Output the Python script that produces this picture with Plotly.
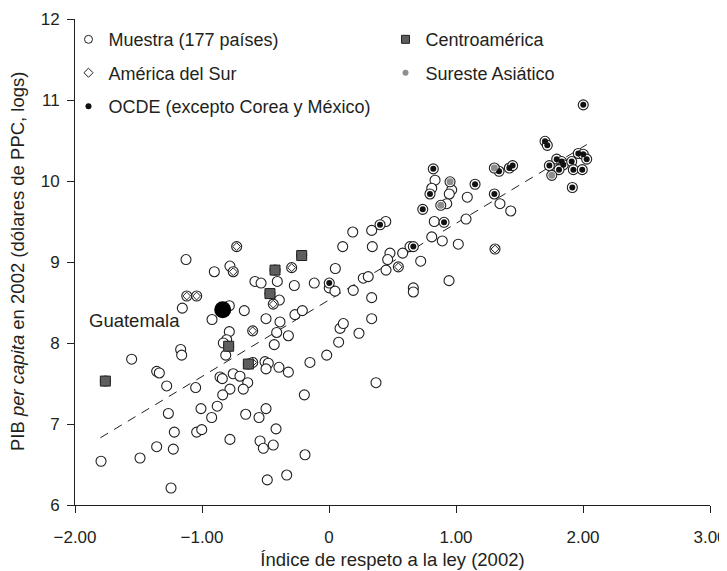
import plotly.graph_objects as go

# Índice de respeto a la ley (x) y PIB per capita en logs (y)
muestra_x = [-1.126, -0.903, -0.780, -1.155, -0.785, -0.921, -0.667, -0.583, -0.535, -0.407,
             -0.273, -0.116, 0.050, 0.108, 0.187, 0.336, 0.447, 0.341, 0.480, 0.462,
             0.449, 0.002, 0.047, 0.191, 0.270, 0.309, 0.336, 0.336, -0.391, -0.496,
             -0.386, -0.268, -0.210, -0.785, -0.806, -0.832, -0.813, -0.412, -0.320, -0.431,
             0.076, 0.087, 0.113, 0.236, -0.018, -1.168, -1.160, -1.554, -1.357, -1.336,
             -1.278, -1.050, -0.504, -0.478, -0.496, -0.394, -0.320, -0.150, -0.754, -0.701,
             -0.858, -0.840, -0.640, -0.675, -0.780, -0.837, -0.880, -1.008, -0.924, -1.265,
             -1.218, -1.042, -1.002, -0.656, -0.551, -0.496, -0.417, -0.543, -0.517, -0.439,
             -0.780, -0.194, -0.189, -0.333, -0.486, -1.244, -1.357, -1.226, -1.488, -1.795,
             0.370, 1.346, 1.431, 1.089, 1.079, 1.018, 0.945, 0.835, 0.809, 0.966,
             0.947, 0.927, 0.829, 0.809, 0.892, 0.638, 0.722, 0.580, 0.664, 0.664]
muestra_y = [9.03, 8.88, 8.95, 8.43, 8.46, 8.29, 8.40, 8.76, 8.74, 8.76,
             8.71, 8.74, 8.92, 9.19, 9.37, 9.39, 9.50, 9.19, 9.11, 9.03,
             8.90, 8.68, 8.64, 8.65, 8.80, 8.82, 8.56, 8.30, 8.53, 8.30,
             8.26, 8.35, 8.40, 8.14, 8.04, 8.00, 7.85, 8.13, 8.09, 7.98,
             8.01, 8.18, 8.24, 8.12, 7.85, 7.92, 7.85, 7.80, 7.65, 7.63,
             7.47, 7.45, 7.77, 7.75, 7.68, 7.70, 7.64, 7.76, 7.62, 7.59,
             7.58, 7.56, 7.51, 7.43, 7.43, 7.36, 7.22, 7.19, 7.08, 7.13,
             6.90, 6.90, 6.93, 7.12, 7.08, 7.19, 6.94, 6.79, 6.70, 6.74,
             6.81, 7.36, 6.62, 6.37, 6.31, 6.21, 6.72, 6.69, 6.58, 6.54,
             7.51, 9.72, 9.63, 9.80, 9.53, 9.22, 8.77, 10.01, 9.91, 9.89,
             9.84, 9.72, 9.50, 9.31, 9.26, 9.19, 9.01, 9.11, 8.68, 8.63]

sur_x = [-0.727, -0.754, -1.120, -1.042, -0.294, 0.546, -0.439, -0.601, -0.601, 1.307]
sur_y = [9.19, 8.88, 8.58, 8.58, 8.93, 8.94, 8.48, 8.15, 7.76, 9.16]

ocde_x = [2.002, 1.701, 1.719, 1.793, 1.832, 1.845, 1.911, 1.963, 2.002, 2.029,
          1.735, 1.811, 1.924, 1.994, 1.916, 1.339, 1.420, 1.446, 1.302, 1.150,
          0.821, 0.795, 0.738, 0.906, 0.664, 0.402, 0.002]
ocde_y = [10.94, 10.49, 10.44, 10.27, 10.24, 10.20, 10.24, 10.34, 10.33, 10.27,
          10.19, 10.14, 10.14, 10.14, 9.92, 10.12, 10.16, 10.19, 9.84, 9.96,
          10.15, 9.84, 9.65, 9.49, 9.19, 9.46, 8.74]

asia_x = [1.754, 1.302, 0.953, 0.880]
asia_y = [10.07, 10.16, 9.99, 9.70]

centro_x = [-0.425, -0.215, -0.465, -0.790, -0.635, -1.761]
centro_y = [8.90, 9.08, 8.61, 7.96, 7.74, 7.53]

guatemala_x = [-0.837]
guatemala_y = [8.41]

# recta de ajuste (extremos)
ajuste_x = [-1.80, 2.03]
ajuste_y = [6.83, 10.45]

x_ticks = [-2, -1, 0, 1, 2, 3]
x_ticktext = ["\u22122.00", "\u22121.00", "0", "1.00", "2.00", "3.00"]
y_ticks = [6, 7, 8, 9, 10, 11, 12]

FONT = "Liberation Sans, Arial, sans-serif"
INK = "#231f20"

fig = go.Figure()

# Recta de regresión (debajo de los puntos)
fig.add_trace(go.Scatter(
    x=ajuste_x, y=ajuste_y, mode="lines",
    line=dict(color=INK, width=1, dash="9px,7px"),
    showlegend=False, hoverinfo="skip"
))

# Todos los países como círculos abiertos
all_x = muestra_x + sur_x + ocde_x + asia_x + centro_x + guatemala_x
all_y = muestra_y + sur_y + ocde_y + asia_y + centro_y + guatemala_y
fig.add_trace(go.Scatter(
    x=all_x, y=all_y, mode="markers",
    marker=dict(symbol="circle", size=10, color="white", line=dict(color=INK, width=1.1)),
    showlegend=False
))

# Marcadores interiores por grupo
fig.add_trace(go.Scatter(
    x=sur_x, y=sur_y, mode="markers",
    marker=dict(symbol="diamond", size=6, color="white", line=dict(color=INK, width=1)),
    showlegend=False
))
fig.add_trace(go.Scatter(
    x=ocde_x, y=ocde_y, mode="markers",
    marker=dict(symbol="circle", size=6, color="#111111", line=dict(width=0)),
    showlegend=False
))
fig.add_trace(go.Scatter(
    x=asia_x, y=asia_y, mode="markers",
    marker=dict(symbol="circle", size=7, color="#8e8e8e", line=dict(width=0)),
    showlegend=False
))
fig.add_trace(go.Scatter(
    x=centro_x, y=centro_y, mode="markers",
    marker=dict(symbol="square", size=10, color="#5e5e5e", line=dict(color=INK, width=1)),
    showlegend=False
))
fig.add_trace(go.Scatter(
    x=guatemala_x, y=guatemala_y, mode="markers",
    marker=dict(symbol="circle", size=17, color="black", line=dict(width=0)),
    showlegend=False
))

# Entradas de leyenda
legend_items = [
    ("Muestra (177 países)", dict(symbol="circle-open", size=8, color=INK, line=dict(width=1)), "legend"),
    ("América del Sur", dict(symbol="diamond-open", size=7, color=INK, line=dict(width=1)), "legend"),
    ("OCDE (excepto Corea y México)", dict(symbol="circle", size=6, color="#111111"), "legend"),
    ("Centroamérica", dict(symbol="square", size=8, color="#5e5e5e", line=dict(color=INK, width=1)), "legend2"),
    ("Sureste Asiático", dict(symbol="circle", size=6, color="#8e8e8e"), "legend2"),
]
for i, (name, mk, lg) in enumerate(legend_items):
    fig.add_trace(go.Scatter(
        x=[None], y=[None], mode="markers", name=name, marker=mk,
        legend=lg, legendgroup=f"g{i}", showlegend=True
    ))

fig.add_annotation(
    x=guatemala_x[0], y=guatemala_y[0], text="Guatemala",
    xref="x", yref="y", showarrow=False,
    xanchor="right", yanchor="middle", xshift=-41, yshift=-11,
    font=dict(family=FONT, size=18.5, color=INK)
)

# título del eje y como anotación girada
fig.add_annotation(
    x=-0.0913, y=0.5, xref="paper", yref="paper",
    text="PIB <i>per capita</i> en 2002 (dólares de PPC, logs)",
    textangle=-90, showarrow=False, xanchor="center", yanchor="middle",
    font=dict(family=FONT, size=18.5, color=INK)
)

legend_style = dict(
    font=dict(family=FONT, size=18, color=INK),
    bgcolor="rgba(0,0,0,0)", borderwidth=0,
    tracegroupgap=7, itemwidth=30,
    xref="container", yref="container",
    xanchor="left", yanchor="top", orientation="v",
)
fig.update_layout(
    width=727, height=571,
    margin=dict(l=67, r=25, t=11, b=74, autoexpand=False),
    paper_bgcolor="white", plot_bgcolor="white",
    font=dict(family=FONT, size=16, color=INK),
    legend=dict(x=0.0832, y=0.977, **legend_style),
    legend2=dict(x=0.5193, y=0.977, **legend_style),
    showlegend=True,
)

fig.update_xaxes(
    range=[-2, 3], tickvals=x_ticks, ticktext=x_ticktext,
    showline=True, linecolor=INK, linewidth=1,
    ticks="outside", ticklen=7, tickcolor=INK, tickwidth=1,
    ticklabelstandoff=10,
    showgrid=False, zeroline=False,
    tickfont=dict(family=FONT, size=17, color=INK),
    title=dict(text="Índice de respeto a la ley (2002)", font=dict(family=FONT, size=18.5, color=INK), standoff=6),
)
fig.update_yaxes(
    range=[6, 12], tickvals=y_ticks,
    showline=True, linecolor=INK, linewidth=1,
    ticks="outside", ticklen=7, tickcolor=INK, tickwidth=1,
    ticklabelstandoff=4,
    showgrid=False, zeroline=False,
    tickfont=dict(family=FONT, size=17, color=INK),
)

fig.write_html("out.html")
